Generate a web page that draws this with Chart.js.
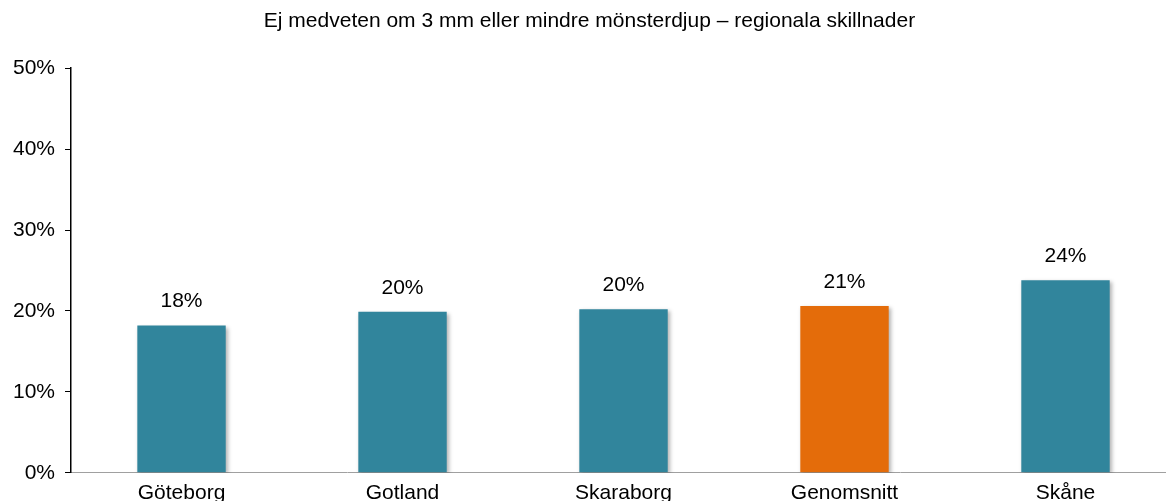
<!DOCTYPE html>
<html>
<head>
<meta charset="utf-8">
<script src="https://cdn.jsdelivr.net/npm/chart.js@4/dist/chart.umd.min.js"></script>
<style>
  html, body { margin: 0; padding: 0; background: #fff; overflow: hidden; }
  #wrap { position: absolute; left: 0; top: 0; width: 1176px; height: 506px; }
</style>
</head>
<body>
<div id="wrap"><canvas id="myChart"></canvas></div>
<script>
var chartTitle = 'Ej medveten om 3 mm eller mindre mönsterdjup – regionala skillnader';
var regions = ['Göteborg', 'Gotland', 'Skaraborg', 'Genomsnitt', 'Skåne'];
var shares = [18.2, 19.9, 20.2, 20.6, 23.8];
var shareLabels = ['18%', '20%', '20%', '21%', '24%'];
var barColors = ['#31859c', '#31859c', '#31859c', '#e46c0a', '#31859c'];

Chart.defaults.font.family = '"Liberation Sans", Arial, sans-serif';
Chart.defaults.color = '#000';

// soft drop shadow under the bars
var barShadow = {
    id: 'barShadow',
    beforeDatasetsDraw: function (chart) {
        var c = chart.ctx;
        c.save();
        c.shadowColor = 'rgba(0, 0, 0, 0.3)';
        c.shadowBlur = 4;
        c.shadowOffsetX = 2;
        c.shadowOffsetY = 2;
    },
    afterDatasetsDraw: function (chart) {
        chart.ctx.restore();
    }
};

// value labels above each bar
var valueLabels = {
    id: 'valueLabels',
    afterDraw: function (chart) {
        var c = chart.ctx;
        var meta = chart.getDatasetMeta(0);
        c.save();
        c.font = '21px "Liberation Sans", Arial, sans-serif';
        c.fillStyle = '#000';
        c.textAlign = 'center';
        c.textBaseline = 'middle';
        meta.data.forEach(function (bar, i) {
            c.fillText(shareLabels[i], bar.x, bar.y - 24);
        });
        c.restore();
    }
};

var ctx = document.getElementById('myChart');
var myChart = new Chart(ctx, {
    type: 'bar',
    data: {
        labels: regions,
        datasets: [{
            data: shares,
            backgroundColor: barColors,
            borderWidth: 0,
            barPercentage: 0.4,
            categoryPercentage: 1
        }]
    },
    options: {
        responsive: true,
        maintainAspectRatio: false,
        animation: false,
        layout: {
            padding: { top: 0, right: 0, left: 3, bottom: 0 }
        },
        scales: {
            x: {
                grid: { display: false },
                border: { color: '#a0a0a0', width: 1 },
                ticks: {
                    font: { size: 21 },
                    padding: 0,
                    maxRotation: 0
                }
            },
            y: {
                min: 0,
                max: 50,
                grid: {
                    drawOnChartArea: false,
                    drawTicks: true,
                    tickLength: 6,
                    color: '#000'
                },
                border: { color: '#000', width: 1.5 },
                ticks: {
                    stepSize: 10,
                    font: { size: 21 },
                    padding: 10,
                    callback: function (v) { return v + '%'; }
                }
            }
        },
        plugins: {
            legend: { display: false },
            tooltip: { enabled: false },
            title: {
                display: true,
                text: chartTitle,
                font: { size: 21, weight: 'normal' },
                color: '#000',
                padding: { top: 9, bottom: 34 }
            }
        }
    },
    plugins: [barShadow, valueLabels]
});
</script>
</body>
</html>
